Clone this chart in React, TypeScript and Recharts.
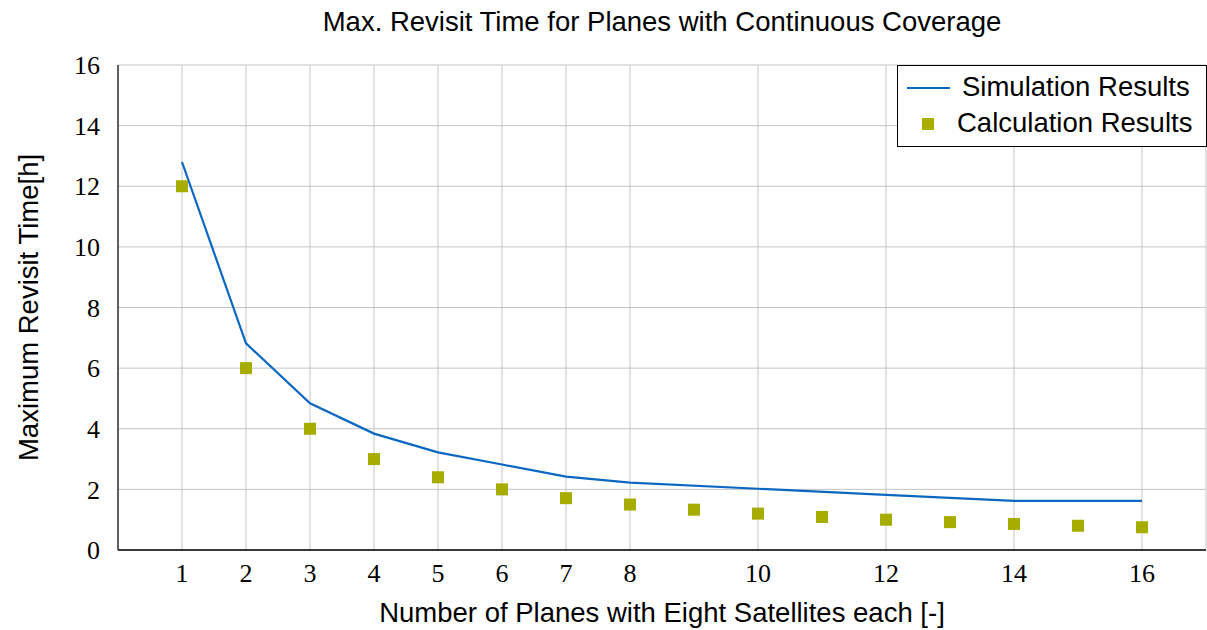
import React from 'react';
import {
  ComposedChart,
  Line,
  Scatter,
  XAxis,
  YAxis,
  CartesianGrid,
} from 'recharts';

// simulated max revisit time per number of planes
const SIM_PLANES = [1, 2, 3, 4, 5, 6, 7, 8, 10, 12, 14, 16];
const SIM_HOURS = [12.8, 6.82, 4.84, 3.84, 3.22, 2.82, 2.42, 2.22, 2.02, 1.82, 1.62, 1.62];

// analytical estimate per number of planes
const CALC_PLANES = [1, 2, 3, 4, 5, 6, 7, 8, 9, 10, 11, 12, 13, 14, 15, 16];
const CALC_HOURS = [12, 6, 4, 3, 2.4, 2, 1.71, 1.5, 1.33, 1.2, 1.09, 1, 0.92, 0.86, 0.8, 0.75];

const X_TICKS = [1, 2, 3, 4, 5, 6, 7, 8, 10, 12, 14, 16];
const Y_TICKS = [0, 2, 4, 6, 8, 10, 12, 14, 16];

const LINE_COLOR = '#0b68c2';
const MARK_COLOR = '#a6ad00';
const SANS = '"Liberation Sans", Arial, sans-serif';
const SERIF = '"Liberation Serif", "DejaVu Serif", serif';
const LABEL_SIZE = 27.5;

const simData = SIM_PLANES.map((p, i) => ({ planes: p, hours: SIM_HOURS[i] }));
const calcData = CALC_PLANES.map((p, i) => ({ planes: p, hours: CALC_HOURS[i] }));

const SquareMark = (props: any) => {
  const { cx, cy } = props;
  if (cx == null || cy == null) return null;
  return <rect x={cx - 6} y={cy - 6} width={12} height={12} fill={MARK_COLOR} />;
};

const LegendBox = () => (
  <div
    style={{
      position: 'absolute',
      left: 897,
      top: 65,
      width: 310,
      height: 82,
      border: '1px solid #000',
      background: '#fff',
      fontFamily: SANS,
      fontSize: LABEL_SIZE,
      color: '#000',
      boxSizing: 'border-box',
    }}
  >
    <svg width={60} height={80} style={{ position: 'absolute', left: 0, top: 0 }}>
      <line x1={9} y1={22} x2={52} y2={22} stroke={LINE_COLOR} strokeWidth={2} />
      <rect x={24} y={52} width={12} height={12} fill={MARK_COLOR} />
    </svg>
    <span style={{ position: 'absolute', left: 64, top: 5 }}>Simulation Results</span>
    <span style={{ position: 'absolute', left: 59, top: 41 }}>Calculation Results</span>
  </div>
);

const App: React.FC = () => {
  return (
    <div style={{ position: 'absolute', left: 0, top: 0, width: 1207, height: 630, background: '#fff' }}>
      <div
        style={{
          position: 'absolute',
          top: 6,
          left: 118,
          width: 1088,
          textAlign: 'center',
          fontFamily: SANS,
          fontSize: LABEL_SIZE,
          color: '#000',
        }}
      >
        Max. Revisit Time for Planes with Continuous Coverage
      </div>
      <ComposedChart
        width={1207}
        height={630}
        margin={{ top: 65, right: 1, bottom: 0, left: 0 }}
      >
        <CartesianGrid xAxisId="bottom" yAxisId="left" stroke="#c4c4c4" strokeWidth={1} />
        <XAxis
          xAxisId="bottom"
          type="number"
          dataKey="planes"
          domain={[0, 17]}
          ticks={X_TICKS}
          interval={0}
          height={80}
          axisLine={{ stroke: '#000', strokeWidth: 1.5 }}
          tickLine={false}
          tick={{ fontFamily: SERIF, fontSize: 26, fill: '#000' }}
          tickMargin={8}
          label={{
            value: 'Number of Planes with Eight Satellites each [-]',
            position: 'insideBottom',
            offset: 8,
            style: { fontFamily: SANS, fontSize: LABEL_SIZE, fill: '#000' },
          }}
        />
        <XAxis
          xAxisId="top"
          orientation="top"
          type="number"
          dataKey="planes"
          domain={[0, 17]}
          height={0}
          axisLine={{ stroke: '#333', strokeWidth: 1.5 }}
          tick={false}
          tickLine={false}
        />
        <YAxis
          yAxisId="left"
          type="number"
          domain={[0, 16]}
          ticks={Y_TICKS}
          interval={0}
          width={118}
          axisLine={{ stroke: '#333', strokeWidth: 1.5 }}
          tickLine={false}
          tick={{ fontFamily: SERIF, fontSize: 26, fill: '#000' }}
          tickMargin={12}
          label={{
            value: 'Maximum Revisit Time[h]',
            angle: -90,
            position: 'insideLeft',
            offset: 28,
            style: { fontFamily: SANS, fontSize: LABEL_SIZE, fill: '#000', textAnchor: 'middle' },
          }}
        />
        <YAxis
          yAxisId="right"
          orientation="right"
          type="number"
          domain={[0, 16]}
          width={0}
          axisLine={{ stroke: '#333', strokeWidth: 1.5 }}
          tick={false}
          tickLine={false}
        />
        <Line
          xAxisId="bottom"
          yAxisId="left"
          data={simData}
          dataKey="hours"
          type="linear"
          stroke={LINE_COLOR}
          strokeWidth={2.2}
          dot={false}
          isAnimationActive={false}
        />
        <Scatter
          xAxisId="bottom"
          yAxisId="left"
          data={calcData}
          dataKey="hours"
          fill={MARK_COLOR}
          shape={<SquareMark />}
          isAnimationActive={false}
        />
      </ComposedChart>
      <LegendBox />
    </div>
  );
};

export default App;
